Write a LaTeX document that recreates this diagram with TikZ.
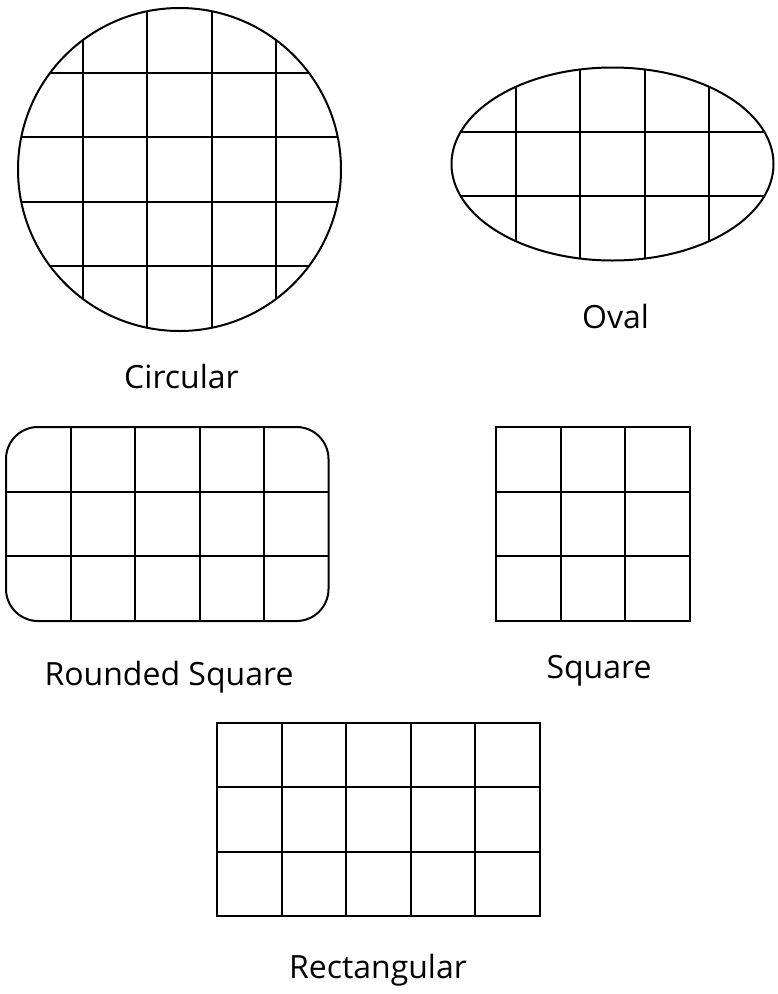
\documentclass[tikz,border=0pt]{standalone}
\usepackage{fontspec}
\setmainfont{Open Sans}
\usepackage{tikz}
\usetikzlibrary{positioning, calc}
\tikzset{
    outline/.style={line width=2pt, black},
    shapelabel/.style={font=\fontsize{32}{36}\selectfont, anchor=base}
}

\begin{document}
\begin{tikzpicture}[x=1pt, y=-1pt]
    \useasboundingbox[fill=white] (0,0) rectangle (778,994);

    % Circular
    \begin{scope}
        \clip (179.5,169.5) circle (161.5);
        \foreach \d in {-96.75,-32.25,32.25,96.75} {
            \draw[outline] (179.5+\d,0) -- (179.5+\d,340);
            \draw[outline] (10,169.5+\d) -- (350,169.5+\d);
        }
    \end{scope}
    \draw[outline] (179.5,169.5) circle (161.5);
    \node[shapelabel] (circlbl) at (181.5,388) {Circular};

    % Oval
    \begin{scope}
        \clip (612.5,164) ellipse (161 and 96.5);
        \foreach \d in {-96.75,-32.25,32.25,96.75}
            \draw[outline] (612.5+\d,60) -- (612.5+\d,270);
        \foreach \d in {-32.25,32.25}
            \draw[outline] (445,164+\d) -- (780,164+\d);
    \end{scope}
    \draw[outline] (612.5,164) ellipse (161 and 96.5);
    \node[shapelabel] (ovallbl) at (615.5,328) {Oval};

    % Rounded square
    \foreach \x in {70.5,135,199.5,264}
        \draw[outline] (\x,427) -- (\x,621);
    \foreach \y in {491.5,556}
        \draw[outline] (6,\y) -- (328.5,\y);
    \draw[outline, rounded corners=32pt] (6,427) rectangle (328.5,621);
    \node[shapelabel] (roundlbl) at (169,685) {Rounded Square};

    % Square
    \foreach \x in {560.5,625}
        \draw[outline] (\x,427) -- (\x,620.5);
    \foreach \y in {491.5,556}
        \draw[outline] (496,\y) -- (689.5,\y);
    \draw[outline] (496,427) rectangle (689.5,620.5);
    \node[shapelabel] (sqlbl) at (599,678) {Square};

    % Rectangular
    \foreach \x in {281.5,346,410.5,475}
        \draw[outline] (\x,722.5) -- (\x,916);
    \foreach \y in {787,851.5}
        \draw[outline] (217,\y) -- (539.5,\y);
    \draw[outline] (217,722.5) rectangle (539.5,916);
    \node[shapelabel] (rectlbl) at (378,978) {Rectangular};
\end{tikzpicture}
\end{document}
